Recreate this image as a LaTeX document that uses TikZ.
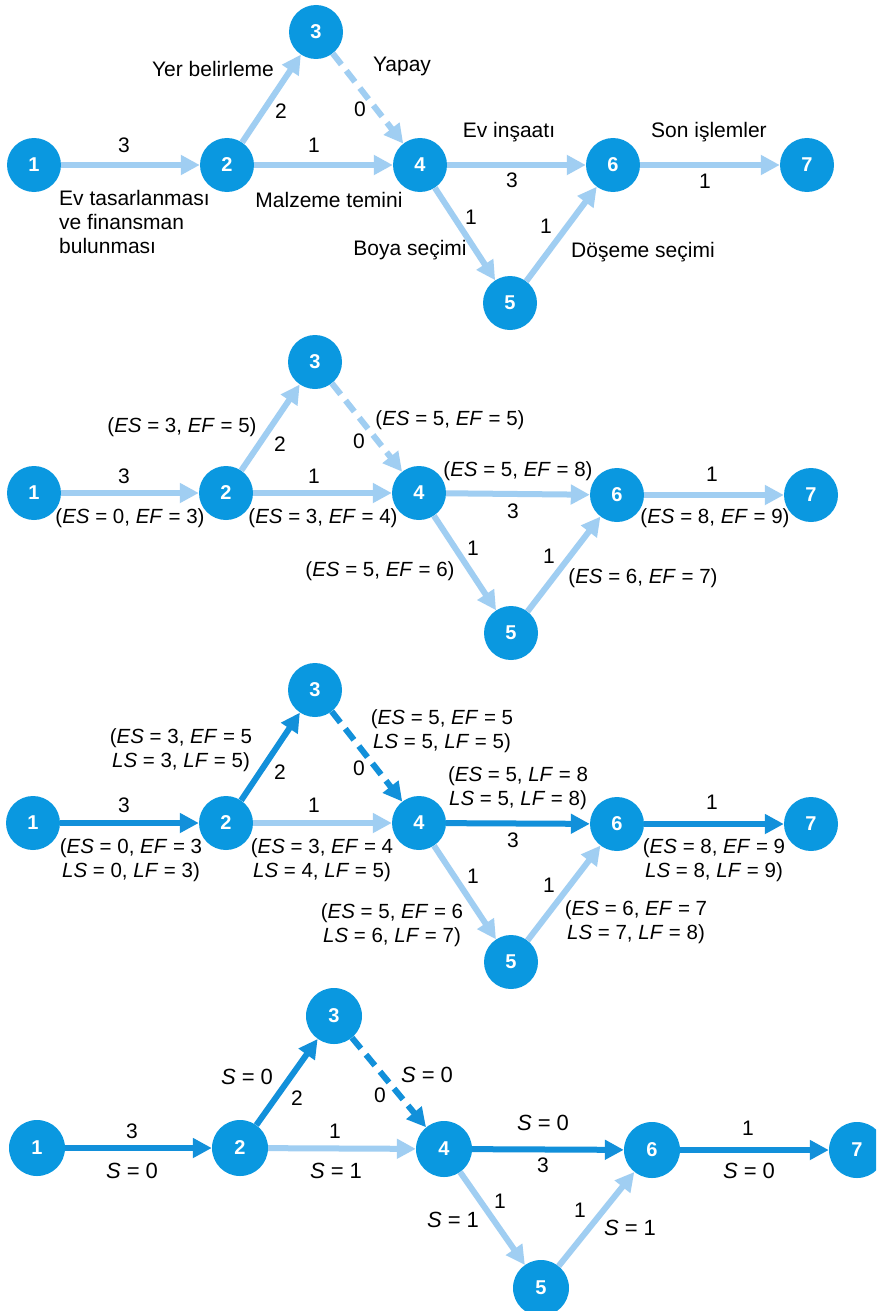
\documentclass[tikz,border=0pt]{standalone}
\usepackage{fontspec}
\setmainfont{Liberation Sans}
\usetikzlibrary{arrows.meta}
\definecolor{olaymavi}{RGB}{10,152,224}
\definecolor{kritikmavi}{RGB}{18,144,218}
\definecolor{acikmavi}{RGB}{160,206,242}
\tikzset{
	olay/.style={circle,fill=olaymavi,minimum size=54pt,inner sep=0pt,text=white,font=\fontsize{20}{20}\selectfont\bfseries},
	faaliyet/.style={line width=6pt,-{Triangle[length=19pt,width=19pt]}},
	hafif/.style={faaliyet,color=acikmavi},
	kritik/.style={faaliyet,color=kritikmavi},
	yapay/.style={dash pattern=on 14pt off 8pt},
	etiket/.style={inner sep=0pt,font=\fontsize{20.5}{24}\selectfont,text height=14pt,text depth=4pt},
	ikisatir/.style={inner sep=0pt,font=\fontsize{20.5}{24}\selectfont,align=center},
	sure/.style={etiket,font=\fontsize{21}{24}\selectfont},
	adlar/.style={etiket,font=\fontsize{21}{24}\selectfont},
	bolluk/.style={etiket,font=\fontsize{22}{24}\selectfont},
}
\begin{document}
\begin{tikzpicture}[x=1pt,y=-1pt]
	\useasboundingbox (0,0) rectangle (876,1311);
	\clip (0,0) rectangle (876,1311);
	\fill[white] (0,0) rectangle (876,1311);

	% 1. ag: faaliyet adlari
	\foreach \n/\x/\y in {1/34/165,2/227/165,3/316/32,4/420/165,5/510/303,6/613/165,7/807/165}
	\node[olay] (a\n) at (\x,\y) {\n};
	\draw[hafif] (a1) -- (a2);
	\draw[hafif] (a2) -- (a3);
	\draw[hafif] (a2) -- (a4);
	\draw[hafif,yapay] (a3) -- (a4);
	\draw[hafif] (a4) -- (a6);
	\draw[hafif] (a4) -- (a5);
	\draw[hafif] (a5) -- (a6);
	\draw[hafif] (a6) -- (a7);

	\node[sure] (a12s) at (124,148) {3};
	\node[sure] (a24s) at (314,148) {1};
	\node[sure] (a23s) at (281,114) {2};
	\node[sure] (a34s) at (360,112) {0};
	\node[sure] (a46s) at (512,182) {3};
	\node[sure] (a67s) at (705,183) {1};
	\node[sure] (a45s) at (471,219) {1};
	\node[sure] (a56s) at (546,228) {1};
	\node[inner sep=0pt,font=\fontsize{21}{24}\selectfont,align=left,anchor=west] (a12a) at (59,222) {Ev tasarlanması\\ve finansman\\bulunması};
	\node[adlar] (a23a) at (213,72) {Yer belirleme};
	\node[adlar] (a34a) at (402,67) {Yapay};
	\node[adlar] (a24a) at (329,202) {Malzeme temini};
	\node[adlar] (a46a) at (509,132) {Ev inşaatı};
	\node[adlar] (a67a) at (709,132) {Son işlemler};
	\node[adlar] (a45a) at (410,250) {Boya seçimi};
	\node[adlar] (a56a) at (643,252) {Döşeme seçimi};

	% 2. ag: en erken zamanlar
	\foreach \n/\x/\y in {1/34/493,2/226/493,3/315/362,4/419/493,5/511/633,6/617/495,7/811/495}
	\node[olay] (b\n) at (\x,\y) {\n};
	\draw[hafif] (b1) -- (b2);
	\draw[hafif] (b2) -- (b3);
	\draw[hafif] (b2) -- (b4);
	\draw[hafif,yapay] (b3) -- (b4);
	\draw[hafif] (b4) -- (b6);
	\draw[hafif] (b4) -- (b5);
	\draw[hafif] (b5) -- (b6);
	\draw[hafif] (b6) -- (b7);

	\node[sure] (b12s) at (124,478) {3};
	\node[sure] (b24s) at (314,478) {1};
	\node[sure] (b23s) at (280,446) {2};
	\node[sure] (b34s) at (359,443) {0};
	\node[sure] (b46s) at (513,513) {3};
	\node[sure] (b67s) at (712,476) {1};
	\node[sure] (b45s) at (473,550) {1};
	\node[sure] (b56s) at (549,558) {1};
	\node[etiket] (b12e) at (130,518) {(\textit{ES} = 0, \textit{EF} = 3)};
	\node[etiket] (b24e) at (323,518) {(\textit{ES} = 3, \textit{EF} = 4)};
	\node[etiket] (b23e) at (182,427) {(\textit{ES} = 3, \textit{EF} = 5)};
	\node[etiket] (b34e) at (450,420) {(\textit{ES} = 5, \textit{EF} = 5)};
	\node[etiket] (b46e) at (518,471) {(\textit{ES} = 5, \textit{EF} = 8)};
	\node[etiket] (b67e) at (715,518) {(\textit{ES} = 8, \textit{EF} = 9)};
	\node[etiket] (b56e) at (643,578) {(\textit{ES} = 6, \textit{EF} = 7)};
	\node[etiket] (b45e) at (380,571) {(\textit{ES} = 5, \textit{EF} = 6)};

	% 3. ag: en gec zamanlar
	\foreach \n/\x/\y in {1/33/823,2/226/823,3/315/690,4/419/823,5/511/962,6/617/824,7/811/824}
	\node[olay] (c\n) at (\x,\y) {\n};
	\draw[kritik] (c1) -- (c2);
	\draw[kritik] (c2) -- (c3);
	\draw[hafif] (c2) -- (c4);
	\draw[kritik,yapay] (c3) -- (c4);
	\draw[kritik] (c4) -- (c6);
	\draw[hafif] (c4) -- (c5);
	\draw[hafif] (c5) -- (c6);
	\draw[kritik] (c6) -- (c7);

	\node[sure] (c12s) at (124,807) {3};
	\node[sure] (c24s) at (314,807) {1};
	\node[sure] (c23s) at (280,774) {2};
	\node[sure] (c34s) at (359,770) {0};
	\node[sure] (c46s) at (513,842) {3};
	\node[sure] (c67s) at (712,804) {1};
	\node[sure] (c45s) at (473,878) {1};
	\node[sure] (c56s) at (549,887) {1};
	\node[ikisatir] (c12e) at (131,860) {(\textit{ES} = 0, \textit{EF} = 3\\\textit{LS} = 0, \textit{LF} = 3)};
	\node[ikisatir] (c24e) at (322,860) {(\textit{ES} = 3, \textit{EF} = 4\\\textit{LS} = 4, \textit{LF} = 5)};
	\node[ikisatir] (c23e) at (181,750) {(\textit{ES} = 3, \textit{EF} = 5\\\textit{LS} = 3, \textit{LF} = 5)};
	\node[ikisatir] (c34e) at (442,731) {(\textit{ES} = 5, \textit{EF} = 5\\\textit{LS} = 5, \textit{LF} = 5)};
	\node[ikisatir] (c46e) at (518,788) {(\textit{ES} = 5, \textit{LF} = 8\\\textit{LS} = 5, \textit{LF} = 8)};
	\node[ikisatir] (c67e) at (714,860) {(\textit{ES} = 8, \textit{EF} = 9\\\textit{LS} = 8, \textit{LF} = 9)};
	\node[ikisatir] (c56e) at (636,922) {(\textit{ES} = 6, \textit{EF} = 7\\\textit{LS} = 7, \textit{LF} = 8)};
	\node[ikisatir] (c45e) at (392,925) {(\textit{ES} = 5, \textit{EF} = 6\\\textit{LS} = 6, \textit{LF} = 7)};

	% 4. ag: bolluklar
	\foreach \n/\x/\y in {1/37/1148,2/240/1148,3/334/1016,4/444/1149,5/541/1288,6/652/1150,7/857/1150}
	\node[olay,minimum size=56pt] (d\n) at (\x,\y) {\n};
	\draw[kritik] (d1) -- (d2);
	\draw[kritik] (d2) -- (d3);
	\draw[hafif] (d2) -- (d4);
	\draw[kritik,yapay] (d3) -- (d4);
	\draw[kritik] (d4) -- (d6);
	\draw[hafif] (d4) -- (d5);
	\draw[hafif] (d5) -- (d6);
	\draw[kritik] (d6) -- (d7);

	\node[sure] (d12s) at (132,1133) {3};
	\node[sure] (d24s) at (335,1133) {1};
	\node[sure] (d23s) at (297,1100) {2};
	\node[sure] (d34s) at (380,1097) {0};
	\node[sure] (d46s) at (543,1167) {3};
	\node[sure] (d67s) at (748,1130) {1};
	\node[sure] (d45s) at (500,1203) {1};
	\node[sure] (d56s) at (580,1212) {1};
	\node[bolluk] (d12b) at (132,1173) {\textit{S} = 0};
	\node[bolluk] (d24b) at (336,1173) {\textit{S} = 1};
	\node[bolluk] (d23b) at (247,1079) {\textit{S} = 0};
	\node[bolluk] (d34b) at (427,1077) {\textit{S} = 0};
	\node[bolluk] (d46b) at (543,1125) {\textit{S} = 0};
	\node[bolluk] (d67b) at (749,1173) {\textit{S} = 0};
	\node[bolluk] (d45b) at (453,1222) {\textit{S} = 1};
	\node[bolluk] (d56b) at (630,1230) {\textit{S} = 1};
\end{tikzpicture}
\end{document}
